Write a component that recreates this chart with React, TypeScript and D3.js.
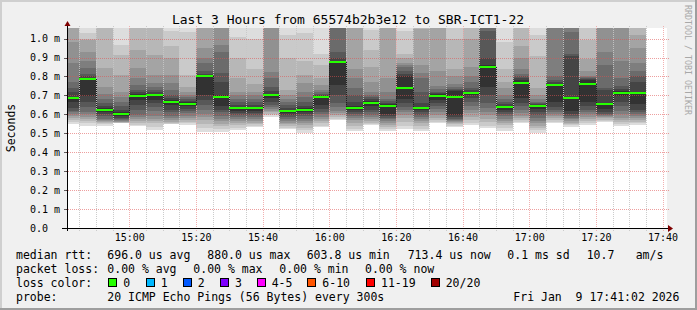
import React from 'react';
import * as d3 from 'd3';

const W = 697;
const H = 310;
const FONT = "'DejaVu Sans Mono', monospace";

const title = 'Last 3 Hours from 65574b2b3e12 to SBR-ICT1-22';
const graphEnd = '17:41:20';

const barEnds = [
  '14:45', '14:50', '14:55', '15:00', '15:05', '15:10', '15:15', '15:20', '15:25', '15:30',
  '15:35', '15:40', '15:45', '15:50', '15:55', '16:00', '16:05', '16:10', '16:15', '16:20',
  '16:25', '16:30', '16:35', '16:40', '16:45', '16:50', '16:55', '17:00', '17:05', '17:10',
  '17:15', '17:20', '17:25', '17:30', '17:35',
];

// median RTT per 5-minute step (ms)
const medians = [
  0.686, 0.788, 0.625, 0.602, 0.699, 0.704, 0.665, 0.656, 0.804, 0.693,
  0.634, 0.634, 0.702, 0.616, 0.625, 0.693, 0.876, 0.634, 0.662, 0.644,
  0.741, 0.635, 0.697, 0.692, 0.714, 0.85, 0.639, 0.767, 0.644, 0.755,
  0.686, 0.76, 0.655, 0.714, 0.714,
];

// 20 sorted ping RTTs per step (ms)
const pings = [
  [0.549, 0.56, 0.57, 0.58, 0.59, 0.6, 0.61, 0.62, 0.635, 0.665, 0.69, 0.72, 0.74, 0.77, 0.87, 0.98, 1.12, 1.2, 1.3, 1.4],
  [0.54, 0.555, 0.565, 0.575, 0.585, 0.6, 0.615, 0.64, 0.665, 0.695, 0.788, 0.8, 0.815, 0.845, 0.88, 0.93, 0.99, 1.0, 1.03, 1.1],
  [0.54, 0.548, 0.555, 0.56, 0.565, 0.57, 0.575, 0.59, 0.6, 0.614, 0.635, 0.645, 0.66, 0.68, 0.71, 0.745, 0.843, 1.1, 1.2, 1.3],
  [0.553, 0.554, 0.556, 0.558, 0.562, 0.565, 0.57, 0.575, 0.58, 0.59, 0.61, 0.625, 0.645, 0.667, 0.69, 0.72, 0.808, 0.913, 0.966, 1.2],
  [0.537, 0.545, 0.555, 0.565, 0.575, 0.585, 0.597, 0.625, 0.65, 0.676, 0.705, 0.718, 0.73, 0.755, 0.79, 0.843, 0.94, 1.1, 1.2, 1.3],
  [0.517, 0.535, 0.555, 0.565, 0.575, 0.59, 0.62, 0.64, 0.66, 0.675, 0.71, 0.72, 0.73, 0.745, 0.765, 0.808, 0.913, 1.1, 1.2, 1.3],
  [0.548, 0.55, 0.555, 0.56, 0.57, 0.58, 0.59, 0.61, 0.625, 0.65, 0.675, 0.685, 0.7, 0.728, 0.765, 0.808, 0.9, 0.96, 1.04, 1.1],
  [0.546, 0.553, 0.56, 0.57, 0.58, 0.59, 0.605, 0.62, 0.63, 0.645, 0.665, 0.672, 0.68, 0.69, 0.702, 0.72, 0.746, 0.808, 1.036, 1.1],
  [0.509, 0.53, 0.55, 0.57, 0.585, 0.6, 0.625, 0.65, 0.675, 0.7, 0.81, 0.815, 0.83, 0.87, 0.9, 0.95, 1.08, 1.15, 1.2, 1.3],
  [0.509, 0.525, 0.54, 0.55, 0.565, 0.575, 0.59, 0.61, 0.625, 0.645, 0.7, 0.773, 0.82, 0.93, 0.966, 1.08, 1.1, 1.15, 1.2, 1.3],
  [0.519, 0.53, 0.545, 0.555, 0.565, 0.575, 0.585, 0.595, 0.605, 0.62, 0.64, 0.652, 0.665, 0.68, 0.7, 0.72, 0.79, 0.9, 1.01, 1.08],
  [0.535, 0.54, 0.548, 0.555, 0.565, 0.575, 0.585, 0.595, 0.605, 0.62, 0.64, 0.652, 0.665, 0.68, 0.7, 0.72, 0.76, 0.84, 1.0, 1.1],
  [0.588, 0.595, 0.6, 0.61, 0.62, 0.63, 0.64, 0.65, 0.665, 0.685, 0.71, 0.725, 0.745, 0.79, 0.825, 1.07, 1.1, 1.15, 1.2, 1.3],
  [0.524, 0.53, 0.54, 0.548, 0.555, 0.565, 0.575, 0.585, 0.595, 0.605, 0.625, 0.635, 0.65, 0.665, 0.68, 0.7, 0.73, 0.9, 1.02, 1.1],
  [0.503, 0.515, 0.53, 0.545, 0.555, 0.565, 0.575, 0.59, 0.6, 0.615, 0.632, 0.645, 0.665, 0.69, 0.72, 0.765, 0.81, 0.88, 1.03, 1.1],
  [0.532, 0.54, 0.555, 0.565, 0.575, 0.585, 0.6, 0.615, 0.63, 0.65, 0.695, 0.7, 0.71, 0.72, 0.73, 0.755, 0.79, 0.86, 0.92, 1.1],
  [0.57, 0.578, 0.585, 0.595, 0.605, 0.62, 0.64, 0.66, 0.7, 0.755, 0.88, 0.9, 0.93, 1.08, 1.1, 1.12, 1.15, 1.2, 1.25, 1.3],
  [0.514, 0.525, 0.54, 0.555, 0.57, 0.58, 0.59, 0.6, 0.61, 0.625, 0.645, 0.665, 0.7, 0.74, 0.79, 0.84, 1.07, 1.1, 1.15, 1.2],
  [0.544, 0.55, 0.555, 0.565, 0.575, 0.585, 0.595, 0.61, 0.625, 0.645, 0.672, 0.68, 0.69, 0.7, 0.72, 0.77, 0.85, 0.94, 1.045, 1.1],
  [0.514, 0.525, 0.535, 0.545, 0.555, 0.565, 0.575, 0.582, 0.59, 0.6, 0.655, 0.66, 0.67, 0.68, 0.72, 0.79, 1.07, 1.1, 1.15, 1.2],
  [0.521, 0.54, 0.56, 0.58, 0.595, 0.61, 0.625, 0.64, 0.66, 0.68, 0.805, 0.815, 0.83, 0.85, 0.86, 0.87, 0.9, 0.92, 1.04, 1.1],
  [0.514, 0.525, 0.54, 0.555, 0.565, 0.575, 0.585, 0.595, 0.61, 0.625, 0.64, 0.66, 0.72, 0.79, 0.82, 0.86, 1.05, 1.06, 1.07, 1.1],
  [0.553, 0.56, 0.57, 0.58, 0.595, 0.61, 0.63, 0.645, 0.66, 0.675, 0.705, 0.712, 0.72, 0.735, 0.75, 0.83, 1.07, 1.1, 1.15, 1.2],
  [0.532, 0.54, 0.548, 0.555, 0.56, 0.565, 0.57, 0.575, 0.585, 0.597, 0.725, 0.73, 0.735, 0.745, 0.76, 0.8, 0.84, 1.0, 1.07, 1.1],
  [0.544, 0.555, 0.57, 0.585, 0.605, 0.625, 0.645, 0.665, 0.685, 0.7, 0.72, 0.73, 0.74, 0.77, 0.8, 0.85, 1.0, 1.07, 1.1, 1.2],
  [0.526, 0.54, 0.56, 0.575, 0.595, 0.615, 0.635, 0.66, 0.7, 0.745, 0.86, 0.9, 1.04, 1.1, 1.2, 1.25, 1.3, 1.35, 1.4, 1.5],
  [0.514, 0.53, 0.545, 0.555, 0.565, 0.575, 0.59, 0.6, 0.61, 0.625, 0.645, 0.655, 0.667, 0.68, 0.7, 0.74, 0.77, 0.84, 0.98, 1.1],
  [0.553, 0.56, 0.57, 0.58, 0.59, 0.605, 0.625, 0.645, 0.66, 0.685, 0.78, 0.79, 0.8, 0.815, 0.84, 0.9, 0.96, 1.07, 1.1, 1.2],
  [0.503, 0.515, 0.53, 0.54, 0.555, 0.565, 0.58, 0.595, 0.61, 0.63, 0.65, 0.655, 0.66, 0.665, 0.68, 0.7, 0.74, 0.91, 1.02, 1.1],
  [0.553, 0.56, 0.57, 0.58, 0.59, 0.6, 0.61, 0.625, 0.64, 0.665, 0.76, 0.77, 0.78, 0.8, 1.07, 1.1, 1.15, 1.2, 1.25, 1.3],
  [0.535, 0.545, 0.55, 0.555, 0.565, 0.575, 0.58, 0.59, 0.6, 0.62, 0.69, 0.91, 0.92, 1.036, 1.2, 1.3, 1.35, 1.4, 1.45, 1.5],
  [0.544, 0.555, 0.565, 0.575, 0.585, 0.6, 0.61, 0.625, 0.645, 0.667, 0.78, 0.785, 0.79, 0.795, 0.8, 0.83, 0.89, 0.99, 1.07, 1.1],
  [0.561, 0.566, 0.572, 0.58, 0.585, 0.59, 0.595, 0.6, 0.61, 0.63, 0.66, 0.73, 0.74, 0.86, 0.93, 1.07, 1.1, 1.15, 1.2, 1.3],
  [0.539, 0.55, 0.56, 0.57, 0.58, 0.6, 0.62, 0.645, 0.665, 0.695, 0.725, 0.735, 0.75, 0.79, 0.88, 1.07, 1.1, 1.15, 1.2, 1.3],
  [0.544, 0.552, 0.56, 0.57, 0.58, 0.59, 0.6, 0.61, 0.625, 0.655, 0.72, 0.77, 0.8, 0.83, 0.87, 0.95, 1.02, 1.07, 1.1, 1.2],
];

const yTicks = [0, 0.1, 0.2, 0.3, 0.4, 0.5, 0.6, 0.7, 0.8, 0.9, 1.0];
const xMajorTicks = ['15:00', '15:20', '15:40', '16:00', '16:20', '16:40', '17:00', '17:20', '17:40'];
const xMinorTicks = [
  '14:45', '14:50', '14:55', '15:05', '15:10', '15:15', '15:25', '15:30', '15:35', '15:45',
  '15:50', '15:55', '16:05', '16:10', '16:15', '16:25', '16:30', '16:35', '16:45', '16:50',
  '16:55', '17:05', '17:10', '17:15', '17:25', '17:30', '17:35',
];

const statLine1 = [
  { text: 'median rtt:', x: 16 },
  { text: '696.0 us avg', x: 107.3 },
  { text: '880.0 us max', x: 207.3 },
  { text: '603.8 us min', x: 306.7 },
  { text: '713.4 us now', x: 407.7 },
  { text: '0.1 ms sd', x: 507.3 },
  { text: '10.7', x: 586.7 },
  { text: 'am/s', x: 635.7 },
];
const statLine2 = [
  { text: 'packet loss:', x: 16 },
  { text: '0.00 % avg', x: 107.3 },
  { text: '0.00 % max', x: 193.3 },
  { text: '0.00 % min', x: 279.3 },
  { text: '0.00 % now', x: 365 },
];
const lossLegend = [
  { label: '0', color: '#26ff00', x: 108.3 },
  { label: '1', color: '#00b8ff', x: 145.7 },
  { label: '2', color: '#0059ff', x: 182.7 },
  { label: '3', color: '#7e00ff', x: 220 },
  { label: '4-5', color: '#ff00ff', x: 256.7 },
  { label: '6-10', color: '#ff5500', x: 307.3 },
  { label: '11-19', color: '#ff0000', x: 366 },
  { label: '20/20', color: '#a10000', x: 430.7 },
];
const probeText = '20 ICMP Echo Pings (56 Bytes) every 300s';
const dateText = 'Fri Jan  9 17:41:02 2026';

const toSec = (s: string) => {
  const p = s.split(':').map(Number);
  return p[0] * 3600 + p[1] * 60 + (p[2] || 0);
};

const STEP = 300;
const PLOT_L = 67;
const PLOT_R = 667;
const PLOT_T = 28;
const PLOT_B = 228;

export default function App() {
  const endSec = toSec(graphEnd);
  const x = d3.scaleLinear().domain([endSec - 10800, endSec]).range([PLOT_L, PLOT_R]);
  const y = d3.scaleLinear().domain([0, (PLOT_B - PLOT_T) / 189.4]).range([PLOT_B, PLOT_T]);
  const gray = (k: number) => {
    const v = Math.floor((190 / 10) * (10 - k)) + 50;
    return `rgb(${v},${v},${v})`;
  };
  const r = (v: number) => Math.round(v);

  const bars = barEnds.map((e, i) => {
    const t1 = toSec(e);
    const x0 = Math.max(PLOT_L, r(x(t1 - STEP)));
    const x1 = r(x(t1));
    return { x0, x1, p: pings[i], m: medians[i] };
  });

  const connectors = bars.slice(1).map((b, i) => {
    const a = r(y(bars[i].m));
    const c = r(y(b.m));
    return { x: b.x0, y0: Math.min(a, c), y1: Math.max(a, c) };
  });

  const dotYs = d3.range(PLOT_T - 2, PLOT_B + 3, 2);
  const vGrid = [
    ...xMinorTicks.map((t) => ({ key: 'n' + t, gx: r(x(toSec(t))), color: 'rgb(199,199,199)' })),
    ...xMajorTicks.map((t) => ({ key: 'j' + t, gx: r(x(toSec(t))), color: 'rgb(239,168,168)' })),
  ];

  const txt = { fontFamily: FONT, whiteSpace: 'pre' as const };

  return (
    <svg
      width={W}
      height={H}
      viewBox={`0 0 ${W} ${H}`}
      shapeRendering="crispEdges"
      style={{ position: 'absolute', left: 0, top: 0, display: 'block' }}
    >
      <defs>
        <clipPath id="plotclip">
          <rect x={PLOT_L} y={PLOT_T} width={PLOT_R - PLOT_L} height={PLOT_B - PLOT_T} />
        </clipPath>
        <pattern id="hRed" patternUnits="userSpaceOnUse" x={0} y={0} width={2} height={8}>
          <rect x={0} y={0} width={1} height={8} fill="rgba(222,80,80,0.55)" />
        </pattern>
      </defs>
      <rect x={0} y={0} width={W} height={H} fill="#f0f0f0" />
      <rect x={0} y={0} width={W} height={2} fill="#cfcfcf" />
      <rect x={0} y={0} width={2} height={H} fill="#cfcfcf" />
      <rect x={0} y={H - 2} width={W} height={2} fill="#9e9e9e" />
      <rect x={W - 2} y={0} width={2} height={H} fill="#9e9e9e" />

      <rect x={PLOT_L} y={PLOT_T} width={PLOT_R - PLOT_L} height={PLOT_B - PLOT_T} fill="#ffffff" />

      <g clipPath="url(#plotclip)">
        {bars.map((b, i) => (
          <g key={i}>
            {d3.range(1, 11).map((k) => {
              const lo = r(y(b.p[k - 1]));
              const hi = r(y(b.p[20 - k]));
              return (
                <rect key={k} x={b.x0} width={b.x1 - b.x0} y={hi} height={lo - hi} fill={gray(k)} />
              );
            })}
          </g>
        ))}
      </g>

      {/* vertical grid as dots */}
      {vGrid.map((g) => (
        <g key={g.key} fill={g.color} fillOpacity={0.9}>
          {dotYs.map((dy) => (
            <rect key={dy} x={g.gx} y={dy} width={1} height={1} />
          ))}
        </g>
      ))}
      {yTicks.map((v) => (
        <rect key={v} x={PLOT_L - 2} width={PLOT_R - PLOT_L + 4} y={r(y(v))} height={1} fill="url(#hRed)" />
      ))}

      {/* median */}
      {connectors.map((c, i) => (
        <g key={i} fill="#202020">
          {d3.range(c.y0, c.y1 + 1, 2).map((dy) => (
            <rect key={dy} x={c.x} y={dy} width={1} height={1} />
          ))}
        </g>
      ))}
      {bars.map((b, i) => (
        <rect key={i} x={b.x0} width={b.x1 - b.x0} y={r(y(b.m)) - 1} height={2} fill="#26ff00" />
      ))}

      {/* axes */}
      <rect x={62} width={607} y={PLOT_B} height={1} fill="#000" />
      <rect x={PLOT_L} width={1} y={24} height={PLOT_B - 24 + 3} fill="#000" />
      {yTicks.map((v) => (
        <rect key={v} x={PLOT_L - 3} width={3} y={r(y(v))} height={1} fill="#000" fillOpacity={0.6} />
      ))}
      <path d={`M668,${PLOT_B - 3} L673,${PLOT_B + 0.5} L668,${PLOT_B + 4} Z`} fill="#7f0000" shapeRendering="auto" />
      <path d={`M64.5,26 L67.5,21 L70.5,26 Z`} fill="#7f0000" shapeRendering="auto" />

      <g shapeRendering="auto">
        {yTicks.map((v) => (
          <text key={v} x={30} y={y(v) + 3.6} fontSize={10} fill="#000" style={txt}>
            {v === 0 ? '0.0' : `${v.toFixed(1)} m`}
          </text>
        ))}
        {xMajorTicks.map((t) => (
          <text key={t} x={x(toSec(t)) + 0.5} y={240.5} fontSize={10} textAnchor="middle" fill="#000" style={txt}>
            {t}
          </text>
        ))}

        <text x={348} y={23.5} fontSize={13} textAnchor="middle" fill="#000" style={txt}>
          {title}
        </text>
        <text
          transform={`translate(14.5,${(PLOT_T + PLOT_B) / 2}) rotate(-90)`}
          fontSize={11.5}
          textAnchor="middle"
          fill="#000"
          style={txt}
        >
          Seconds
        </text>
        <text transform="translate(685,5) rotate(90)" fontSize={8.3} fill="#a8a8a8" style={txt}>
          RRDTOOL / TOBI OETIKER
        </text>

        {statLine1.map((s, i) => (
          <text key={i} x={s.x} y={258.5} fontSize={11.5} fill="#000" style={txt}>
            {s.text}
          </text>
        ))}
        {statLine2.map((s, i) => (
          <text key={i} x={s.x} y={272.5} fontSize={11.5} fill="#000" style={txt}>
            {s.text}
          </text>
        ))}
        <text x={16} y={286.5} fontSize={11.5} fill="#000" style={txt}>
          loss color:
        </text>
        {lossLegend.map((l) => (
          <text key={l.label} x={l.x + 15} y={286.5} fontSize={11.5} fill="#000" style={txt}>
            {l.label}
          </text>
        ))}
        <text x={16} y={300.5} fontSize={11.5} fill="#000" style={txt}>
          probe:
        </text>
        <text x={107.3} y={300.5} fontSize={11.5} fill="#000" style={txt}>
          {probeText}
        </text>
        <text x={513.3} y={300.5} fontSize={11.5} fill="#000" style={txt}>
          {dateText}
        </text>
      </g>
      {lossLegend.map((l) => (
        <rect key={l.label} x={r(l.x) + 0.5} y={278.5} width={8} height={8} fill={l.color} stroke="#000" strokeWidth={1} />
      ))}
    </svg>
  );
}
